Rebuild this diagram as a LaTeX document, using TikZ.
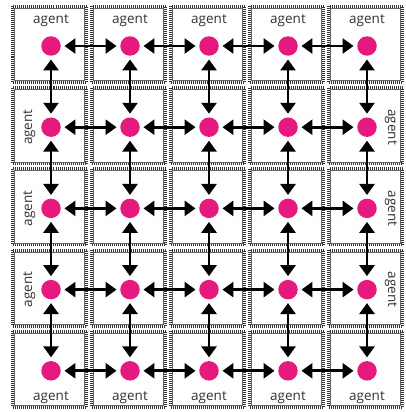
\documentclass[tikz,border=0pt]{standalone}
\usepackage{fontspec}
\setmainfont{Open Sans}
\usetikzlibrary{arrows.meta}
\definecolor{agentpink}{HTML}{E6197F}
\definecolor{agentgray}{HTML}{333333}

\begin{document}
\begin{tikzpicture}[x=1pt,y=-1pt,
    cellband/.style={draw=black!80,line width=3pt,dash pattern=on 1pt off 1pt},
    cellline/.style={draw=black!60,line width=0.5pt},
    agentdot/.style={circle,fill=agentpink,minimum size=19.5pt,inner sep=0pt},
    agentlabel/.style={font=\fontsize{13.5}{15}\selectfont,text=agentgray,inner sep=0pt},
    link/.style={{Triangle[length=11pt,width=15pt]}-{Triangle[length=11pt,width=15pt]},
      line width=2.7pt,shorten <=3.5pt,shorten >=3.5pt}]
  \useasboundingbox[fill=white] (0,0) rectangle (406,412);
  % cells
  \foreach \i in {0,...,4} {
    \foreach \j in {0,...,4} {
      \pgfmathsetmacro\xl{11+79*\i}
      \pgfmathsetmacro\yt{5+81.2*\j}
      \draw[cellband] (\xl+1.5,\yt+1.5) rectangle (\xl+75.5,\yt+77.5);
      \draw[cellline] (\xl+3.3,\yt+3.3) rectangle (\xl+73.7,\yt+75.7);
      \node[agentdot] (d\i\j) at (51+79*\i,46+81.2*\j) {};
    }
  }
  % labels
  \foreach \i in {0,...,4} {
    \node[agentlabel,anchor=base] (top\i) at (51+79*\i,24) {agent};
    \node[agentlabel,anchor=base] (bot\i) at (51+79*\i,400) {agent};
  }
  \foreach \j in {1,2,3} {
    \node[agentlabel,anchor=base,rotate=90] (left\j) at (32,46+81.2*\j) {agent};
    \node[agentlabel,anchor=base,rotate=-90] (right\j) at (388,46+81.2*\j) {agent};
  }
  % links
  \foreach \i in {0,...,3} {
    \pgfmathtruncatemacro\k{\i+1}
    \foreach \j in {0,...,4} {
      \draw[link] (d\i\j) -- (d\k\j);
      \draw[link] (d\j\i) -- (d\j\k);
    }
  }
\end{tikzpicture}
\end{document}
